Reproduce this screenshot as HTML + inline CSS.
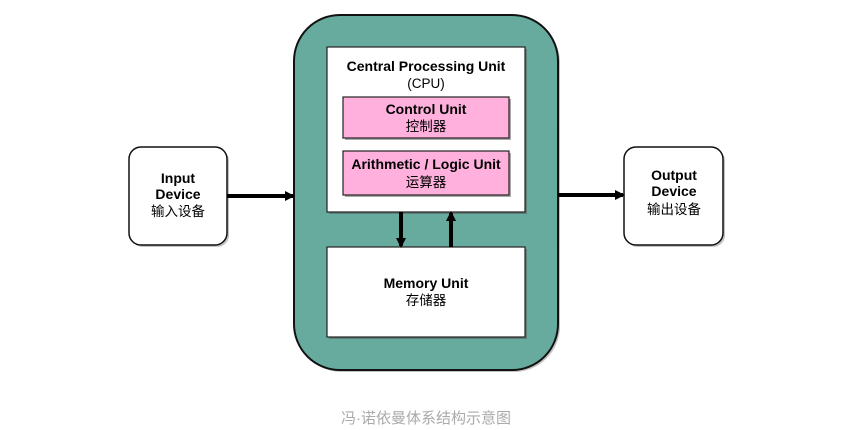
<!DOCTYPE html>
<html><head><meta charset="utf-8"><style>
html,body{margin:0;padding:0;background:#fff;}
svg{display:block;}
text{font-family:"Liberation Sans","Noto Sans CJK SC",sans-serif;text-anchor:middle;fill:#000;}
.b{font-weight:bold;font-size:14px;}
.c{font-size:13.5px;}
</style></head><body>
<svg width="868" height="430" viewBox="0 0 868 430" xmlns="http://www.w3.org/2000/svg">
<defs><marker id="ah" viewBox="0 0 10 10" refX="8" refY="5" markerWidth="2.5" markerHeight="2.5" orient="auto"><path d="M0,0L10,5L0,10z" fill="#000"/></marker></defs>
<g fill="#999" opacity="0.6">
<rect x="296" y="17" width="264" height="355" rx="46"/>
<rect x="131" y="149" width="98" height="98" rx="12"/>
<rect x="626" y="149" width="99" height="98" rx="12"/>
</g>
<rect x="294" y="15" width="264" height="355" rx="46" fill="#67ab9f" stroke="#111" stroke-width="2"/>
<rect x="129" y="147" width="98" height="98" rx="12" fill="#fff" stroke="#111" stroke-width="1.5"/>
<rect x="624" y="147" width="99" height="98" rx="12" fill="#fff" stroke="#111" stroke-width="1.5"/>
<rect x="329" y="49" width="198" height="165" fill="#555" opacity="0.5"/>
<rect x="327" y="47" width="198" height="165" fill="#fff" stroke="#222" stroke-width="1.2"/>
<rect x="329" y="249" width="198" height="90" fill="#555" opacity="0.5"/>
<rect x="327" y="247" width="198" height="90" fill="#fff" stroke="#222" stroke-width="1.2"/>
<rect x="345" y="99" width="166" height="41" fill="#555" opacity="0.5"/>
<rect x="343" y="97" width="166" height="41" fill="#ffb0dc" stroke="#222" stroke-width="1.2"/>
<rect x="345" y="153" width="166" height="44" fill="#555" opacity="0.5"/>
<rect x="343" y="151" width="166" height="44" fill="#ffb0dc" stroke="#222" stroke-width="1.2"/>
<line x1="227" y1="196" x2="293" y2="196" stroke="#000" stroke-width="4" marker-end="url(#ah)"/>
<line x1="558" y1="195" x2="623" y2="195" stroke="#000" stroke-width="4" marker-end="url(#ah)"/>
<line x1="401" y1="212" x2="401" y2="246" stroke="#000" stroke-width="4" marker-end="url(#ah)"/>
<line x1="451" y1="247" x2="451" y2="213" stroke="#000" stroke-width="4" marker-end="url(#ah)"/>
<text class="b" x="426" y="71">Central Processing Unit</text>
<text class="c" x="426" y="88">(CPU)</text>
<text class="b" x="426" y="114">Control Unit</text>
<text class="c" x="426" y="131">控制器</text>
<text class="b" x="426" y="169">Arithmetic / Logic Unit</text>
<text class="c" x="426" y="187">运算器</text>
<text class="b" x="426" y="288">Memory Unit</text>
<text class="c" x="426" y="305">存储器</text>
<text class="b" x="178" y="183">Input</text>
<text class="b" x="178" y="199">Device</text>
<text class="c" x="178" y="216">输入设备</text>
<text class="b" x="674" y="180">Output</text>
<text class="b" x="674" y="196">Device</text>
<text class="c" x="674" y="214">输出设备</text>
<text x="426" y="423" style="font-size:15px;fill:#aaa;">冯·诺依曼体系结构示意图</text>
</svg>
</body></html>
